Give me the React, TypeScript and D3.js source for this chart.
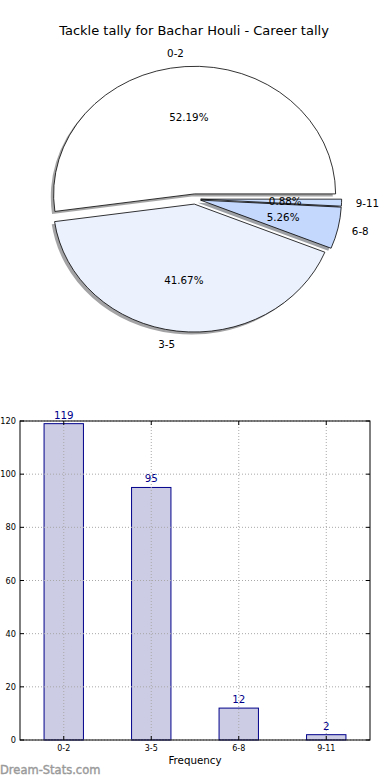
import React from 'react';
import * as d3 from 'd3';

const categories = ['0-2', '3-5', '6-8', '9-11'];
const tallies = [119, 95, 12, 2];
const sliceColors = ['#ffffff', '#ebf1fd', '#c4d8fe', '#c8dcfe'];
const yTicks = [0, 20, 40, 60, 80, 100, 120];

const title = 'Tackle tally for Bachar Houli - Career tally';
const font = '"DejaVu Sans", sans-serif';

const W = 390, H = 780;

// pie geometry (matplotlib style: elliptical, counter-clockwise from east)
const pie = { cx: 195, cy: 199, rx: 141, ry: 128, explode: 0.04, labelDist: 1.1, pctDist: 0.6 };

// bar chart frame
const frame = { left: 20, right: 370, top: 421, bottom: 740 };

function PieChart() {
  const total = d3.sum(tallies);
  const arcs = d3.pie<number>().sort(null)
    .startAngle(Math.PI / 2)
    .endAngle(Math.PI / 2 - 2 * Math.PI)(tallies);
  const arc = d3.arc<d3.PieArcDatum<number>>().innerRadius(0).outerRadius(1);

  const slices = arcs.map((a, i) => {
    // back to matplotlib angle (ccw from east)
    const mid = Math.PI / 2 - (a.startAngle + a.endAngle) / 2;
    const ox = pie.cx + pie.explode * pie.rx * Math.cos(mid);
    const oy = pie.cy - pie.explode * pie.ry * Math.sin(mid);
    const c = d3.rgb(sliceColors[i]);
    const shadow = d3.rgb(c.r * 0.3, c.g * 0.3, c.b * 0.3).toString();
    return { a, i, mid, ox, oy, shadow, path: arc(a) || '' };
  });

  return (
    <g>
      {slices.map(s => (
        <g key={'sh' + s.i} transform={`translate(${s.ox - 0.02 * pie.rx},${s.oy + 0.02 * pie.ry}) scale(${pie.rx},${pie.ry})`}>
          <path d={s.path} fill={s.shadow} fillOpacity={0.5} />
        </g>
      ))}
      {slices.map(s => (
        <g key={'w' + s.i} transform={`translate(${s.ox},${s.oy}) scale(${pie.rx},${pie.ry})`}>
          <path d={s.path} fill={sliceColors[s.i]} stroke="#000" strokeWidth={0.8} vectorEffect="non-scaling-stroke" strokeLinejoin="round" />
        </g>
      ))}
      {slices.map(s => {
        const lx = s.ox + pie.labelDist * pie.rx * Math.cos(s.mid);
        const ly = s.oy - pie.labelDist * pie.ry * Math.sin(s.mid);
        const px = s.ox + pie.pctDist * pie.rx * Math.cos(s.mid);
        const py = s.oy - pie.pctDist * pie.ry * Math.sin(s.mid);
        return (
          <g key={'t' + s.i} fontFamily={font} fontSize={10.3} fill="#000">
            <text x={lx} y={ly} dominantBaseline="central" textAnchor={Math.cos(s.mid) > 0 ? 'start' : 'end'}>{categories[s.i]}</text>
            <text x={px} y={py} dominantBaseline="central" textAnchor="middle">{(100 * tallies[s.i] / total).toFixed(2)}%</text>
          </g>
        );
      })}
    </g>
  );
}

function BarChart() {
  const x = d3.scaleLinear().domain([0, categories.length]).range([frame.left, frame.right]);
  const y = d3.scaleLinear().domain([0, 120]).range([frame.bottom, frame.top]);
  const barW = 0.45 * (x(1) - x(0));
  const tickLen = 4;

  return (
    <g fontFamily={font}>
      {tallies.map((v, i) => {
        const cx = x(i + 0.5);
        return (
          <g key={i}>
            <rect x={cx - barW / 2} y={y(v)} width={barW} height={y(0) - y(v)} fill="#cccce4" stroke="#00008b" strokeWidth={1} />
            <text x={cx} y={y(v) - 9} textAnchor="middle" dominantBaseline="central" fontSize={10.3} fill="#00008b">{v}</text>
          </g>
        );
      })}
      {/* grid on top of bars */}
      {yTicks.map(t => (
        <line key={'gy' + t} x1={frame.left} x2={frame.right} y1={y(t)} y2={y(t)} stroke="#a8a8a8" strokeWidth={1} strokeDasharray="1,2" />
      ))}
      {categories.map((c, i) => (
        <line key={'gx' + c} x1={x(i + 0.5)} x2={x(i + 0.5)} y1={frame.top} y2={frame.bottom} stroke="#a8a8a8" strokeWidth={1} strokeDasharray="1,2" />
      ))}
      <rect x={frame.left} y={frame.top} width={frame.right - frame.left} height={frame.bottom - frame.top} fill="none" stroke="#000" strokeWidth={1} />
      {yTicks.map(t => (
        <g key={'ty' + t}>
          <line x1={frame.left} x2={frame.left + tickLen} y1={y(t)} y2={y(t)} stroke="#000" />
          <line x1={frame.right} x2={frame.right - tickLen} y1={y(t)} y2={y(t)} stroke="#000" />
          <text x={frame.left - 4} y={y(t)} textAnchor="end" dominantBaseline="central" fontSize={8.2} fill="#000">{t}</text>
        </g>
      ))}
      {categories.map((c, i) => (
        <g key={'tx' + c}>
          <line x1={x(i + 0.5)} x2={x(i + 0.5)} y1={frame.bottom} y2={frame.bottom - tickLen} stroke="#000" />
          <line x1={x(i + 0.5)} x2={x(i + 0.5)} y1={frame.top} y2={frame.top + tickLen} stroke="#000" />
          <text x={x(i + 0.5)} y={frame.bottom + 8} textAnchor="middle" dominantBaseline="central" fontSize={8} fill="#000">{c}</text>
        </g>
      ))}
      <text x={(frame.left + frame.right) / 2} y={760} textAnchor="middle" dominantBaseline="central" fontSize={10.3} fill="#000">Frequency</text>
    </g>
  );
}

export default function App() {
  return (
    <svg width={W} height={H} style={{ position: 'absolute', left: 0, top: 0, background: '#fff' }}>
      <rect width={W} height={H} fill="#fff" />
      <text x={194} y={30} textAnchor="middle" dominantBaseline="central" fontFamily={font} fontSize={13} fill="#000">{title}</text>
      <PieChart />
      <BarChart />
      <text x={0} y={770} dominantBaseline="central" fontFamily={font} fontSize={11.5} fill="#9a9a9a" stroke="#9a9a9a" strokeWidth={0.4}>Dream-Stats.com</text>
    </svg>
  );
}
